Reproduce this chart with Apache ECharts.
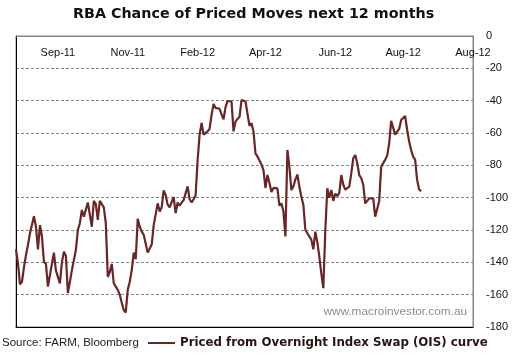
<!DOCTYPE html>
<html><head><meta charset="utf-8">
<script src="https://cdn.jsdelivr.net/npm/echarts@6/dist/echarts.min.js"></script>
<style>html,body{margin:0;padding:0;background:#fff}#c{width:524px;height:359px}</style>
</head><body><div id="c"></div>
<script>
const chartTitle = 'RBA Chance of Priced Moves next 12 months';
const seriesName = 'Priced from Overnight Index Swap (OIS) curve';
const sourceText = 'Source: FARM, Bloomberg';
const watermark = 'www.macroinvestor.com.au';

// category slots (trading days, including empty slots at the right end)
const slotCount = 230;
const slots = Array.from({length: slotCount}, (_, i) => String(i));

// top-axis tick labels and the slot they sit on
const tickLabels = ['Sep-11', 'Nov-11', 'Feb-12', 'Apr-12', 'Jun-12', 'Aug-12', 'Aug-12'];
const tickSlots = [21, 56, 91, 125, 160, 194, 229];

// value axis
const yMin = -180, yMax = 0, yStep = 20;

// priced moves (basis points)
const pricedMoves = [
  -132, -140.6, -153.6, -152, -143, -135.5, -129.3, -122, -121, -111.5,
  -118, -132, -117, -124, -139.6, -141, -155, -148, -148, -134,
  -145, -144, -153, -140, -133.4, -136, -159, -152, -145, -138.6,
  -132.4, -120, -115.8, -107.6, -111.7, -110.7, -103, -102.4, -118, -102,
  -104, -113.8, -102, -103, -106, -115.8, -149, -146, -141, -153,
  -153.5, -157, -160, -165, -169.5, -171, -157, -152, -144.8, -134,
  -138, -113, -118, -121, -123, -124, -134, -133, -129, -117,
  -116, -103.5, -108.5, -106, -95.5, -98.5, -104.3, -106, -105, -99.6,
  -109.5, -103, -105, -103, -101.5, -101, -93, -101, -103, -101,
  -98.5, -77, -61, -53.8, -61, -61, -59, -57.5, -48.7, -42,
  -44.5, -44.5, -45, -48.5, -51.6, -44, -40.2, -40, -40.5, -59,
  -52.8, -52.8, -50, -39.6, -39, -40.5, -41.6, -55.5, -54, -59,
  -72.6, -74.6, -75.6, -79.5, -83, -94, -86, -90.8, -96.5, -94,
  -93, -94.2, -105, -103.5, -108.5, -124, -70.5, -81, -95.3, -93,
  -88.8, -85.7, -93.2, -99.5, -104.5, -120, -122, -123, -126, -132,
  -121, -127.5, -136.5, -147, -156, -120, -94.2, -100, -95.3, -102,
  -97.5, -99, -97, -86, -92, -95, -94.6, -93.2, -85, -75.6,
  -73.6, -78.6, -86, -88, -92, -103.5, -103, -100.4, -99.4, -100.5,
  -111.8, -112.8, -102, -80.8, -78.6, -76.6, -74, -66.4, -52.5, -52,
  -61, -62.2, -57.5, -52, -53, -49.5, -58, -65.2, -70.5, -74.6,
  -76.5, -89, -94.8, -96
];

const lineColor = '#6a2525';
const chart = echarts.init(document.getElementById('c'), null, {renderer: 'canvas'});
chart.setOption({
  animation: false,
  backgroundColor: '#fff',
  title: [{
    text: chartTitle, left: 73, top: 7, padding: 0,
    textStyle: {fontFamily: 'DejaVu Sans', fontWeight: 'bold', fontSize: 14.3, color: '#111'}
  }, {
    text: sourceText, left: 2, top: 337, padding: 0,
    textStyle: {fontFamily: 'Liberation Sans', fontWeight: 'normal', fontSize: 11.5, color: '#222'}
  }],
  legend: {
    data: [seriesName], left: 148, top: 337, padding: 0,
    icon: 'rect', itemWidth: 27, itemHeight: 2,
    textStyle: {fontFamily: 'DejaVu Sans', fontWeight: 'bold', fontSize: 11.8, color: '#2a1212'}
  },
  graphic: [{
    type: 'text', right: 57, top: 306,
    style: {text: watermark, fill: '#8c8c8c', font: '11.8px "Liberation Sans"'}
  }],
  grid: {left: 16, top: 36, right: 51, bottom: 32, show: true, borderColor: '#868686', borderWidth: 1},
  xAxis: [{
    type: 'category', position: 'top', data: slots, boundaryGap: false,
    axisLine: {show: true, lineStyle: {color: '#868686', width: 1}},
    axisTick: {show: false},
    splitLine: {show: false},
    axisLabel: {
      inside: true, margin: 11, color: '#111', fontSize: 11, fontFamily: 'Liberation Sans',
      interval: (idx) => tickSlots.indexOf(idx) >= 0,
      formatter: (v, idx) => tickLabels[tickSlots.indexOf(idx)] || ''
    }
  }, {
    type: 'category', position: 'bottom', data: slots, boundaryGap: false,
    axisLine: {show: true, onZero: false, lineStyle: {color: '#000', width: 1}},
    axisTick: {show: false}, axisLabel: {show: false}, splitLine: {show: false}
  }],
  yAxis: [{
    type: 'value', position: 'right', min: yMin, max: yMax, interval: yStep,
    axisLine: {show: true, lineStyle: {color: '#868686'}},
    axisTick: {show: false},
    axisLabel: {margin: 13, color: '#111', fontSize: 11, fontFamily: 'Liberation Sans'},
    splitLine: {show: true, lineStyle: {color: '#7d8a8a', type: [3, 2], width: 1}}
  }, {
    type: 'value', position: 'left', min: yMin, max: yMax, interval: yStep,
    axisLine: {show: true, onZero: false, lineStyle: {color: '#000', width: 1}},
    axisTick: {show: false}, axisLabel: {show: false}, splitLine: {show: false}
  }],
  series: [{
    name: seriesName, type: 'line', data: pricedMoves,
    xAxisIndex: 0, yAxisIndex: 0,
    showSymbol: false, symbol: 'none',
    lineStyle: {color: lineColor, width: 2.2},
    itemStyle: {color: lineColor}
  }]
});
</script></body></html>
